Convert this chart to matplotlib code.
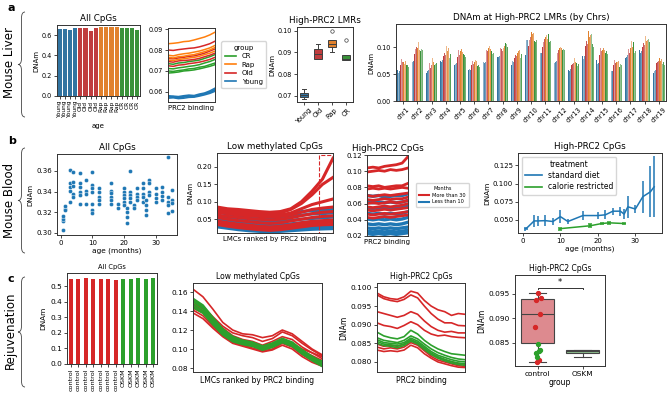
import numpy as np
import matplotlib
matplotlib.use("Agg")
import matplotlib.pyplot as plt
from matplotlib.path import Path
from matplotlib.patches import PathPatch, Rectangle
from matplotlib.lines import Line2D

# ---------------- data ----------------
# a: mouse liver, all CpGs
liver_samples = ['Young'] * 4 + ['Old'] * 4 + ['Rap'] * 4 + ['CR'] * 4
liver_allcpg = [0.665, 0.665, 0.655, 0.670, 0.670, 0.672, 0.645, 0.672,
                0.678, 0.678, 0.680, 0.678, 0.670, 0.672, 0.670, 0.655]

# a: mean DNAm along PRC2 binding rank (4 samples per group)
liver_young = [
    [0.0575, 0.0578, 0.0572, 0.0575, 0.0580, 0.0578, 0.0585, 0.0590, 0.0600, 0.0612],
    [0.0582, 0.0580, 0.0578, 0.0582, 0.0585, 0.0583, 0.0590, 0.0595, 0.0605, 0.0618],
    [0.0570, 0.0572, 0.0568, 0.0570, 0.0574, 0.0575, 0.0580, 0.0586, 0.0593, 0.0603],
    [0.0578, 0.0575, 0.0574, 0.0578, 0.0582, 0.0580, 0.0585, 0.0592, 0.0598, 0.0608],
]
liver_cr = [
    [0.0700, 0.0698, 0.0702, 0.0705, 0.0710, 0.0712, 0.0718, 0.0722, 0.0730, 0.0738],
    [0.0690, 0.0692, 0.0695, 0.0700, 0.0702, 0.0705, 0.0710, 0.0716, 0.0722, 0.0730],
    [0.0712, 0.0710, 0.0715, 0.0718, 0.0722, 0.0725, 0.0730, 0.0738, 0.0745, 0.0755],
    [0.0735, 0.0732, 0.0738, 0.0740, 0.0745, 0.0748, 0.0752, 0.0760, 0.0768, 0.0778],
]
liver_old = [
    [0.0800, 0.0798, 0.0802, 0.0805, 0.0808, 0.0810, 0.0815, 0.0822, 0.0830, 0.0842],
    [0.0745, 0.0742, 0.0748, 0.0750, 0.0752, 0.0755, 0.0760, 0.0768, 0.0775, 0.0785],
    [0.0725, 0.0722, 0.0728, 0.0730, 0.0735, 0.0738, 0.0742, 0.0748, 0.0755, 0.0765],
    [0.0760, 0.0758, 0.0762, 0.0765, 0.0770, 0.0772, 0.0778, 0.0785, 0.0795, 0.0805],
]
liver_rap = [
    [0.0830, 0.0832, 0.0835, 0.0840, 0.0842, 0.0848, 0.0855, 0.0862, 0.0872, 0.0885],
    [0.0775, 0.0772, 0.0778, 0.0782, 0.0785, 0.0790, 0.0795, 0.0802, 0.0810, 0.0822],
    [0.0765, 0.0762, 0.0768, 0.0770, 0.0775, 0.0778, 0.0785, 0.0792, 0.0800, 0.0812],
    [0.0752, 0.0750, 0.0755, 0.0758, 0.0762, 0.0765, 0.0770, 0.0778, 0.0785, 0.0795],
]

# a: High-PRC2 LMRs boxplot stats
box_groups = ['Young', 'Old', 'Rap', 'CR']
box_lo = [0.0688, 0.0868, 0.0900, 0.0865]
box_q1 = [0.0695, 0.0870, 0.0925, 0.0865]
box_med = [0.0705, 0.0895, 0.0940, 0.0868]
box_q3 = [0.0715, 0.0915, 0.0955, 0.0890]
box_hi = [0.0732, 0.0940, 0.0955, 0.0890]
box_fliers = [[], [], [0.1000], [0.0955]]

# a: by chromosome (4 samples per group, one value per chromosome)
chroms = ['chr%d' % i for i in range(1, 20)]
chr_young = [
    [0.057, 0.077, 0.052, 0.075, 0.066, 0.057, 0.068, 0.082, 0.066, 0.085, 0.092, 0.077, 0.058, 0.083, 0.076, 0.057, 0.080, 0.095, 0.052],
    [0.052, 0.073, 0.050, 0.074, 0.069, 0.060, 0.072, 0.080, 0.075, 0.113, 0.090, 0.070, 0.054, 0.078, 0.068, 0.055, 0.085, 0.087, 0.056],
    [0.055, 0.075, 0.055, 0.073, 0.068, 0.058, 0.070, 0.081, 0.070, 0.100, 0.089, 0.072, 0.056, 0.080, 0.070, 0.056, 0.082, 0.089, 0.054],
    [0.058, 0.076, 0.058, 0.076, 0.070, 0.061, 0.073, 0.083, 0.073, 0.114, 0.093, 0.074, 0.059, 0.084, 0.073, 0.059, 0.086, 0.092, 0.057],
]
chr_old = [
    [0.066, 0.088, 0.062, 0.083, 0.082, 0.066, 0.100, 0.088, 0.080, 0.102, 0.101, 0.108, 0.066, 0.103, 0.086, 0.066, 0.085, 0.100, 0.071],
    [0.078, 0.096, 0.070, 0.095, 0.095, 0.075, 0.095, 0.099, 0.091, 0.114, 0.110, 0.090, 0.072, 0.100, 0.098, 0.077, 0.096, 0.110, 0.076],
    [0.070, 0.100, 0.062, 0.090, 0.090, 0.070, 0.092, 0.096, 0.085, 0.125, 0.116, 0.095, 0.068, 0.112, 0.088, 0.070, 0.090, 0.108, 0.072],
    [0.072, 0.094, 0.066, 0.086, 0.086, 0.068, 0.098, 0.092, 0.083, 0.118, 0.113, 0.098, 0.070, 0.106, 0.092, 0.072, 0.087, 0.104, 0.074],
]
chr_rap = [
    [0.072, 0.098, 0.068, 0.095, 0.093, 0.073, 0.098, 0.100, 0.090, 0.128, 0.118, 0.098, 0.075, 0.130, 0.095, 0.072, 0.098, 0.116, 0.080],
    [0.068, 0.110, 0.080, 0.102, 0.098, 0.076, 0.103, 0.098, 0.097, 0.132, 0.122, 0.100, 0.080, 0.135, 0.103, 0.073, 0.112, 0.120, 0.084],
    [0.070, 0.100, 0.072, 0.092, 0.096, 0.070, 0.096, 0.102, 0.092, 0.124, 0.120, 0.098, 0.072, 0.118, 0.098, 0.070, 0.100, 0.112, 0.075],
    [0.074, 0.095, 0.074, 0.098, 0.091, 0.075, 0.100, 0.104, 0.095, 0.126, 0.115, 0.096, 0.077, 0.122, 0.094, 0.074, 0.104, 0.114, 0.078],
]
chr_cr = [
    [0.066, 0.093, 0.066, 0.098, 0.088, 0.065, 0.092, 0.108, 0.082, 0.112, 0.125, 0.095, 0.070, 0.088, 0.090, 0.064, 0.110, 0.104, 0.064],
    [0.065, 0.097, 0.068, 0.080, 0.080, 0.063, 0.088, 0.105, 0.080, 0.112, 0.104, 0.096, 0.065, 0.124, 0.089, 0.068, 0.090, 0.115, 0.068],
    [0.067, 0.095, 0.070, 0.088, 0.085, 0.066, 0.090, 0.100, 0.088, 0.110, 0.110, 0.095, 0.068, 0.105, 0.093, 0.075, 0.095, 0.110, 0.073],
    [0.064, 0.094, 0.065, 0.090, 0.082, 0.064, 0.089, 0.103, 0.085, 0.114, 0.112, 0.094, 0.066, 0.100, 0.088, 0.066, 0.093, 0.108, 0.066],
]

# b: mouse blood, all CpGs vs age
blood_age = [0.7, 0.7, 0.7, 0.7, 1.2, 1.2, 1.2,
             3, 3, 3, 3, 3, 4, 4, 4, 4, 4,
             6, 6, 6, 6, 6, 6, 8, 8, 8, 8,
             10, 10, 10, 10, 10, 10, 10, 12, 12, 12, 12, 12,
             16, 16, 16, 16, 16, 16, 18, 18,
             20, 20, 20, 20, 20, 20, 21, 21, 21, 21,
             22, 22, 22, 22, 22, 23, 23, 24, 24, 24, 24,
             26, 26, 26, 26, 26, 27, 27, 27, 27, 28, 28, 28, 28,
             30, 30, 30, 30, 32, 32, 32, 32, 34, 34, 34, 34, 34, 35, 35, 35, 35]
blood_dnam = [0.303, 0.311, 0.3135, 0.316, 0.3235, 0.3255, 0.322,
              0.361, 0.348, 0.344, 0.341, 0.330, 0.359, 0.349, 0.345, 0.338, 0.335,
              0.358, 0.348, 0.344, 0.340, 0.337, 0.328, 0.351, 0.341, 0.338, 0.328,
              0.359, 0.346, 0.343, 0.340, 0.328, 0.322, 0.3195, 0.343, 0.340, 0.335, 0.332, 0.328,
              0.348, 0.341, 0.339, 0.335, 0.332, 0.328, 0.328, 0.3236,
              0.343, 0.340, 0.337, 0.334, 0.330, 0.327, 0.3236, 0.320, 0.3155, 0.309,
              0.360, 0.340, 0.337, 0.334, 0.330, 0.327, 0.3236, 0.343, 0.338, 0.335, 0.332,
              0.348, 0.343, 0.338, 0.335, 0.330, 0.332, 0.327, 0.322, 0.317, 0.351, 0.348, 0.340, 0.337,
              0.343, 0.338, 0.334, 0.330, 0.344, 0.340, 0.336, 0.332, 0.374, 0.335, 0.330, 0.327, 0.319,
              0.342, 0.332, 0.329, 0.321]

# b: low methylated CpGs, old (>30 months) and young (<10 months) mice
blood_lmc_old = [
    [0.085, 0.080, 0.078, 0.075, 0.072, 0.070, 0.072, 0.080, 0.100, 0.130, 0.165, 0.225],
    [0.080, 0.076, 0.073, 0.070, 0.068, 0.066, 0.068, 0.078, 0.095, 0.120, 0.150, 0.170],
    [0.075, 0.070, 0.067, 0.064, 0.062, 0.060, 0.062, 0.068, 0.080, 0.092, 0.100, 0.108],
    [0.070, 0.066, 0.062, 0.060, 0.058, 0.056, 0.058, 0.062, 0.070, 0.078, 0.082, 0.085],
    [0.062, 0.058, 0.055, 0.052, 0.050, 0.048, 0.050, 0.054, 0.060, 0.066, 0.070, 0.072],
    [0.055, 0.050, 0.046, 0.043, 0.040, 0.038, 0.040, 0.045, 0.050, 0.055, 0.058, 0.060],
    [0.045, 0.040, 0.036, 0.033, 0.030, 0.028, 0.030, 0.034, 0.040, 0.044, 0.046, 0.048],
    [0.040, 0.035, 0.030, 0.027, 0.025, 0.022, 0.025, 0.029, 0.034, 0.038, 0.040, 0.042],
    [0.035, 0.030, 0.026, 0.023, 0.020, 0.018, 0.020, 0.024, 0.028, 0.032, 0.034, 0.035],
]
blood_lmc_young = [
    [0.082, 0.075, 0.068, 0.063, 0.060, 0.058, 0.060, 0.065, 0.072, 0.075, 0.075, 0.078],
    [0.070, 0.065, 0.060, 0.057, 0.055, 0.053, 0.055, 0.058, 0.062, 0.065, 0.066, 0.068],
    [0.060, 0.055, 0.050, 0.046, 0.044, 0.042, 0.044, 0.047, 0.050, 0.052, 0.054, 0.056],
    [0.050, 0.045, 0.040, 0.037, 0.035, 0.033, 0.034, 0.037, 0.040, 0.042, 0.043, 0.045],
    [0.035, 0.030, 0.026, 0.022, 0.020, 0.018, 0.019, 0.021, 0.024, 0.026, 0.027, 0.028],
    [0.028, 0.024, 0.020, 0.017, 0.015, 0.014, 0.015, 0.017, 0.019, 0.021, 0.022, 0.023],
]

# b: high-PRC2 CpGs
blood_hp_old = [
    [0.104, 0.105, 0.104, 0.106, 0.107, 0.108, 0.110, 0.118],
    [0.099, 0.100, 0.101, 0.100, 0.102, 0.101, 0.102, 0.104],
    [0.082, 0.081, 0.082, 0.080, 0.081, 0.082, 0.082, 0.085],
    [0.078, 0.079, 0.078, 0.079, 0.078, 0.079, 0.080, 0.079],
    [0.070, 0.069, 0.070, 0.071, 0.070, 0.071, 0.072, 0.073],
    [0.065, 0.064, 0.065, 0.066, 0.065, 0.066, 0.066, 0.068],
    [0.060, 0.061, 0.060, 0.061, 0.062, 0.061, 0.062, 0.064],
    [0.056, 0.055, 0.056, 0.057, 0.056, 0.057, 0.058, 0.060],
    [0.052, 0.051, 0.052, 0.053, 0.052, 0.053, 0.054, 0.055],
    [0.047, 0.046, 0.047, 0.048, 0.047, 0.048, 0.049, 0.050],
    [0.043, 0.042, 0.043, 0.044, 0.043, 0.044, 0.045, 0.046],
]
blood_hp_young = [
    [0.070, 0.069, 0.070, 0.068, 0.069, 0.070, 0.070, 0.072],
    [0.062, 0.061, 0.062, 0.061, 0.062, 0.061, 0.062, 0.064],
    [0.055, 0.054, 0.055, 0.054, 0.055, 0.054, 0.055, 0.057],
    [0.048, 0.047, 0.048, 0.047, 0.048, 0.047, 0.048, 0.050],
    [0.041, 0.040, 0.041, 0.040, 0.041, 0.040, 0.041, 0.043],
    [0.035, 0.034, 0.035, 0.034, 0.035, 0.034, 0.035, 0.037],
    [0.030, 0.029, 0.030, 0.029, 0.030, 0.029, 0.030, 0.031],
    [0.026, 0.025, 0.026, 0.025, 0.026, 0.025, 0.026, 0.027],
    [0.023, 0.022, 0.023, 0.022, 0.023, 0.022, 0.023, 0.024],
]

# b: high-PRC2 CpGs by age and treatment
sd_age = [0.6, 1, 3, 4, 6, 8, 10, 12, 16, 20, 22, 24, 26, 27, 28, 30, 32, 34, 35]
sd_mean = [0.0377, 0.0386, 0.0486, 0.0486, 0.0490, 0.0478, 0.0545, 0.0478, 0.0560, 0.0560,
           0.0570, 0.0620, 0.0620, 0.0580, 0.0680, 0.0650, 0.0820, 0.0886, 0.0955]
sd_err = [0.003, 0.002, 0.008, 0.007, 0.008, 0.005, 0.009, 0.003, 0.006, 0.005,
          0.006, 0.005, 0.006, 0.007, 0.015, 0.006, 0.022, 0.035, 0.042]
cr_age = [10, 18, 21, 23, 27]
cr_mean = [0.0380, 0.0420, 0.0450, 0.0460, 0.0450]
cr_err = [0.0012, 0.0020, 0.0012, 0.0010, 0.0012]

# c: rejuvenation
rejuv_samples = ['control'] * 7 + ['OSKM'] * 5
rejuv_allcpg = [0.547, 0.545, 0.550, 0.548, 0.546, 0.545, 0.543, 0.546, 0.545, 0.550, 0.548, 0.550]

rejuv_lmc_ctrl = [
    [0.163, 0.155, 0.142, 0.128, 0.120, 0.116, 0.115, 0.112, 0.114, 0.120, 0.116, 0.108, 0.100, 0.094],
    [0.148, 0.142, 0.132, 0.122, 0.114, 0.110, 0.108, 0.104, 0.108, 0.113, 0.110, 0.102, 0.096, 0.090],
    [0.145, 0.140, 0.128, 0.118, 0.110, 0.107, 0.105, 0.101, 0.104, 0.110, 0.106, 0.098, 0.093, 0.088],
    [0.143, 0.138, 0.126, 0.116, 0.108, 0.105, 0.103, 0.100, 0.103, 0.108, 0.105, 0.100, 0.096, 0.092],
    [0.138, 0.132, 0.122, 0.113, 0.106, 0.103, 0.100, 0.097, 0.099, 0.104, 0.100, 0.092, 0.086, 0.082],
    [0.141, 0.135, 0.124, 0.114, 0.107, 0.104, 0.101, 0.098, 0.100, 0.106, 0.102, 0.094, 0.088, 0.084],
    [0.150, 0.145, 0.134, 0.124, 0.117, 0.114, 0.112, 0.108, 0.111, 0.118, 0.114, 0.106, 0.099, 0.093],
]
rejuv_lmc_oskm = [
    [0.153, 0.146, 0.133, 0.121, 0.113, 0.109, 0.107, 0.103, 0.106, 0.111, 0.107, 0.099, 0.092, 0.086],
    [0.150, 0.143, 0.131, 0.119, 0.111, 0.107, 0.105, 0.101, 0.104, 0.109, 0.105, 0.097, 0.090, 0.084],
    [0.147, 0.140, 0.128, 0.117, 0.110, 0.106, 0.104, 0.100, 0.103, 0.108, 0.104, 0.096, 0.089, 0.083],
    [0.144, 0.138, 0.126, 0.115, 0.108, 0.105, 0.103, 0.099, 0.102, 0.107, 0.103, 0.095, 0.088, 0.082],
    [0.151, 0.144, 0.130, 0.119, 0.112, 0.108, 0.106, 0.102, 0.105, 0.110, 0.106, 0.098, 0.091, 0.087],
]

rejuv_hp_ctrl = [
    [0.0985, 0.0975, 0.0970, 0.0968, 0.0975, 0.0990, 0.0985, 0.0965, 0.0950, 0.0940, 0.0935, 0.0925, 0.0930, 0.0928],
    [0.0980, 0.0970, 0.0965, 0.0962, 0.0968, 0.0980, 0.0972, 0.0950, 0.0930, 0.0915, 0.0905, 0.0905, 0.0898, 0.0897],
    [0.0935, 0.0930, 0.0925, 0.0920, 0.0925, 0.0935, 0.0928, 0.0910, 0.0895, 0.0885, 0.0880, 0.0882, 0.0878, 0.0878],
    [0.0905, 0.0898, 0.0895, 0.0890, 0.0898, 0.0908, 0.0900, 0.0885, 0.0875, 0.0870, 0.0872, 0.0868, 0.0866, 0.0865],
    [0.0840, 0.0835, 0.0838, 0.0835, 0.0840, 0.0852, 0.0845, 0.0830, 0.0815, 0.0805, 0.0800, 0.0795, 0.0790, 0.0788],
    [0.0832, 0.0828, 0.0830, 0.0828, 0.0832, 0.0845, 0.0838, 0.0822, 0.0810, 0.0800, 0.0795, 0.0790, 0.0786, 0.0785],
    [0.0848, 0.0842, 0.0845, 0.0842, 0.0848, 0.0858, 0.0850, 0.0835, 0.0820, 0.0812, 0.0806, 0.0800, 0.0796, 0.0794],
]
rejuv_hp_oskm = [
    [0.0880, 0.0870, 0.0865, 0.0862, 0.0868, 0.0885, 0.0875, 0.0858, 0.0845, 0.0835, 0.0828, 0.0822, 0.0820, 0.0818],
    [0.0865, 0.0858, 0.0855, 0.0852, 0.0858, 0.0870, 0.0862, 0.0848, 0.0835, 0.0825, 0.0818, 0.0812, 0.0808, 0.0806],
    [0.0860, 0.0852, 0.0850, 0.0848, 0.0852, 0.0864, 0.0856, 0.0842, 0.0828, 0.0818, 0.0812, 0.0806, 0.0802, 0.0800],
    [0.0855, 0.0848, 0.0846, 0.0843, 0.0848, 0.0860, 0.0852, 0.0838, 0.0824, 0.0814, 0.0807, 0.0801, 0.0797, 0.0795],
    [0.0850, 0.0844, 0.0842, 0.0838, 0.0844, 0.0856, 0.0848, 0.0833, 0.0820, 0.0810, 0.0803, 0.0797, 0.0793, 0.0791],
]

rejuv_groups = ['control', 'OSKM']
rejuv_box_ctrl = [0.0952, 0.0938, 0.0942, 0.0908, 0.0882, 0.0815, 0.0810]
rejuv_box_oskm = [0.0848, 0.0835, 0.0832, 0.0828, 0.0820]

# ---------------- styling ----------------
BLUE, ORANGE, GREEN, RED = '#1f77b4', '#ff7f0e', '#2ca02c', '#d62728'
BLUE_D, ORANGE_D, GREEN_D, RED_D = '#3274a1', '#e1812c', '#3a923a', '#c03d3e'
group_color = {'Young': BLUE_D, 'Old': RED_D, 'Rap': ORANGE_D, 'CR': GREEN_D}

W, H = 667, 399
fig = plt.figure(figsize=(W / 100, H / 100), dpi=100)


def add_ax(x0, y0, x1, y1):
    # box given in pixels from the top-left corner
    return fig.add_axes([x0 / W, 1 - y1 / H, (x1 - x0) / W, (y1 - y0) / H])


def style(ax, fs, title=None, tfs=6.3):
    ax.tick_params(labelsize=fs, length=2, width=0.5, pad=1.5)
    for s in ax.spines.values():
        s.set_linewidth(0.7)
        s.set_color('#333333')
    if title:
        ax.set_title(title, fontsize=tfs, pad=3)


def brace(x, ytop, ybot, w=7):
    # curly brace opening to the right, tip on the left
    yc = (ytop + ybot) / 2
    xm = x + w * 0.5
    pts = [(x + w, ytop), (xm, ytop), (xm, ytop + 6),
           (xm, yc - 6), (xm, yc), (x, yc),
           (xm, yc), (xm, yc + 6),
           (xm, ybot - 6), (xm, ybot), (x + w, ybot)]
    codes = [Path.MOVETO, Path.CURVE3, Path.CURVE3,
             Path.LINETO, Path.CURVE3, Path.CURVE3,
             Path.CURVE3, Path.CURVE3,
             Path.LINETO, Path.CURVE3, Path.CURVE3]
    verts = [(px / W, 1 - py / H) for px, py in pts]
    fig.patches.append(PathPatch(Path(verts, codes), transform=fig.transFigure,
                                 fill=False, lw=0.6, color='#444444'))


# row labels
fig.text(8 / W, 1 - 8 / H, 'a', fontsize=8, fontweight='bold', va='center')
fig.text(8 / W, 1 - 141 / H, 'b', fontsize=8, fontweight='bold', va='center')
fig.text(8 / W, 1 - 279 / H, 'c', fontsize=8, fontweight='bold', va='center')
fig.text(10 / W, 1 - 62 / H, 'Mouse Liver', rotation=90, fontsize=8.5, ha='center', va='center')
fig.text(10 / W, 1 - 200 / H, 'Mouse Blood', rotation=90, fontsize=8.5, ha='center', va='center')
fig.text(10 / W, 1 - 330 / H, 'Rejuvenation', rotation=90, fontsize=8.5, ha='center', va='center')
brace(18, 12, 117)
brace(18, 148, 253)
brace(18, 277, 387)

# ---------------- row a ----------------
ax = add_ax(57, 25, 140, 96)
ax.bar(range(len(liver_allcpg)), liver_allcpg, width=0.8,
       color=[group_color[g] for g in liver_samples])
ax.set_xlim(-0.5, len(liver_allcpg) - 0.5)
ax.set_ylim(0, 0.70)
ax.set_xticks(range(len(liver_samples)))
ax.set_xticklabels(liver_samples, rotation=90)
ax.set_yticks([0, 0.2, 0.4, 0.6])
style(ax, 4.7, 'All CpGs')
ax.tick_params(axis='x', labelsize=4.2)
ax.set_ylabel('DNAm', fontsize=5, labelpad=2)
ax.set_xlabel('age', fontsize=5, labelpad=3)

ax = add_ax(168, 28, 215, 102)
for lines, c in [(liver_young, BLUE), (liver_cr, GREEN), (liver_old, RED), (liver_rap, ORANGE)]:
    for ys in lines:
        ax.plot(range(len(ys)), ys, color=c, lw=1.1)
ax.set_xlim(0, 9)
ax.set_ylim(0.0552, 0.0905)
ax.set_xticks([])
ax.set_yticks([0.06, 0.07, 0.08, 0.09])
style(ax, 4.7)
ax.set_xlabel('PRC2 binding', fontsize=5, labelpad=2)
handles = [Line2D([], [], color=c, lw=1.2) for c in (GREEN, ORANGE, RED, BLUE)]
fig.legend(handles, ['CR', 'Rap', 'Old', 'Young'], title='group', loc='upper left',
           bbox_to_anchor=(218 / W, 1 - 38 / H), fontsize=5, title_fontsize=5,
           handlelength=1.6, borderpad=0.5, labelspacing=0.35, frameon=True)

ax = add_ax(297, 27, 353, 102)
stats = []
for i, g in enumerate(box_groups):
    stats.append(dict(label=g, med=box_med[i], q1=box_q1[i], q3=box_q3[i],
                      whislo=box_lo[i], whishi=box_hi[i], fliers=box_fliers[i]))
bp = ax.bxp(stats, positions=range(len(box_groups)), widths=0.6, patch_artist=True,
            medianprops=dict(color='#3f3f3f', lw=0.7),
            whiskerprops=dict(color='#3f3f3f', lw=0.7),
            capprops=dict(color='#3f3f3f', lw=0.7),
            boxprops=dict(edgecolor='#3f3f3f', lw=0.7),
            flierprops=dict(marker='o', markersize=2.5, markerfacecolor='none',
                            markeredgecolor='#3f3f3f', markeredgewidth=0.5))
for patch, g in zip(bp['boxes'], box_groups):
    patch.set_facecolor(group_color[g])
ax.set_ylim(0.0672, 0.1017)
ax.set_yticks([0.07, 0.08, 0.09, 0.10])
ax.set_xticklabels(box_groups, rotation=45)
style(ax, 4.7, 'High-PRC2 LMRs')
ax.set_ylabel('DNAm', fontsize=5, labelpad=2)

ax = add_ax(396, 24, 666, 101)
sample_alpha = [1.0, 0.55, 0.85, 0.7]
bw = 0.8 / 16
k = 0
for grp, key in [(chr_young, 'Young'), (chr_old, 'Old'), (chr_rap, 'Rap'), (chr_cr, 'CR')]:
    for j, vals in enumerate(grp):
        xs = np.arange(len(chroms)) - 0.4 + bw * (k + 0.5)
        ax.bar(xs, vals, width=bw, color=group_color[key], alpha=sample_alpha[j], lw=0)
        k += 1
ax.set_xlim(-0.5, len(chroms) - 0.5)
ax.set_ylim(0, 0.143)
ax.set_xticks(range(len(chroms)))
ax.set_xticklabels(chroms, rotation=45)
ax.set_yticks([0, 0.05, 0.10])
style(ax, 4.7, 'DNAm at High-PRC2 LMRs (by Chrs)')
ax.set_ylabel('DNAm', fontsize=5, labelpad=2)

# ---------------- row b ----------------
ax = add_ax(57, 154, 177, 235)
ax.scatter(blood_age, blood_dnam, s=9, color=BLUE, edgecolor='white', lw=0.3, zorder=3)
ax.set_xlim(-1.2, 36.7)
ax.set_ylim(0.2978, 0.3765)
ax.set_xticks([0, 10, 20, 30])
ax.set_yticks([0.30, 0.32, 0.34, 0.36])
style(ax, 5, 'All CpGs')
ax.set_ylabel('DNAm', fontsize=5, labelpad=2)
ax.set_xlabel('age (months)', fontsize=5.3, labelpad=1)

ax = add_ax(217, 153, 333, 233)
for ys in blood_lmc_young:
    ax.plot(range(len(ys)), ys, color=BLUE, lw=2.2)
for ys in blood_lmc_old:
    ax.plot(range(len(ys)), ys, color=RED, lw=2.2)
ax.add_patch(Rectangle((9.65, 0.0115), 1.33, 0.222, fill=False, ls='--', lw=0.8,
                       edgecolor=RED, zorder=5))
ax.set_xlim(0, 11)
ax.set_ylim(0.0105, 0.240)
ax.set_xticks([])
ax.set_yticks([0.05, 0.10, 0.15, 0.20])
style(ax, 5, 'Low methylated CpGs')
ax.set_ylabel('DNAm', fontsize=5, labelpad=2)
ax.set_xlabel('LMCs ranked by PRC2 binding', fontsize=5, labelpad=2)

ax = add_ax(367, 155, 408, 236)
for ys in blood_hp_young:
    ax.plot(range(len(ys)), ys, color=BLUE, lw=2.4)
for ys in blood_hp_old:
    ax.plot(range(len(ys)), ys, color=RED, lw=2.0)
ax.set_xlim(0, 7)
ax.set_ylim(0.02, 0.12)
ax.set_xticks([])
ax.set_yticks([0.02, 0.04, 0.06, 0.08, 0.10, 0.12])
style(ax, 5, 'High-PRC2 CpGs')
ax.set_xlabel('PRC2 binding', fontsize=5, labelpad=2)
handles = [Line2D([], [], color=c, lw=1.5) for c in (RED, BLUE)]
fig.legend(handles, ['More than 30', 'Less than 10'], title='Months', loc='upper left',
           bbox_to_anchor=(413 / W, 1 - 181 / H), fontsize=3.6, title_fontsize=3.6,
           handlelength=2.0, borderpad=0.6, labelspacing=0.3, frameon=True)

ax = add_ax(518, 153, 662, 233)
ax.errorbar(sd_age, sd_mean, yerr=sd_err, color=BLUE, lw=1.1, elinewidth=1.1)
ax.errorbar(cr_age, cr_mean, yerr=cr_err, color=GREEN, lw=1.1, elinewidth=1.1,
            capsize=1.5, capthick=1.1)
ax.set_xlim(-1.3, 37.1)
ax.set_ylim(0.032, 0.142)
ax.set_xticks([0, 10, 20, 30])
ax.set_yticks([0.050, 0.075, 0.100, 0.125])
style(ax, 5, 'High-PRC2 CpGs')
ax.set_ylabel('DNAm', fontsize=5.3, labelpad=2)
ax.set_xlabel('age (months)', fontsize=5.3, labelpad=1)
handles = [Line2D([], [], color=c, lw=1.2) for c in (BLUE, GREEN)]
ax.legend(handles, ['standard diet', 'calorie restricted'], title='treatment',
          loc='upper left', fontsize=5.5, title_fontsize=5.5,
          handlelength=2.2, borderpad=0.4, labelspacing=0.3)

# ---------------- row c ----------------
rejuv_color = {'control': RED, 'OSKM': GREEN}
ax = add_ax(67, 273, 157, 364)
ax.bar(range(len(rejuv_allcpg)), rejuv_allcpg, width=0.55,
       color=[rejuv_color[g] for g in rejuv_samples])
ax.set_xlim(-0.5, len(rejuv_allcpg) - 0.5)
ax.set_ylim(0, 0.585)
ax.set_xticks(range(len(rejuv_samples)))
ax.set_xticklabels(rejuv_samples, rotation=90)
ax.set_yticks([0, 0.1, 0.2, 0.3, 0.4, 0.5])
style(ax, 5.3, 'All CpGs', tfs=4.8)
ax.tick_params(axis='x', labelsize=4.6)
ax.set_ylabel('DNAm', fontsize=5.3, labelpad=3)

ax = add_ax(193, 283, 322, 372)
for ys in rejuv_lmc_ctrl:
    ax.plot(range(len(ys)), ys, color=RED, lw=1.2)
for ys in rejuv_lmc_oskm:
    ax.plot(range(len(ys)), ys, color=GREEN, lw=1.6)
ax.set_xlim(0, 13)
ax.set_ylim(0.0758, 0.1695)
ax.set_xticks([])
ax.set_yticks([0.08, 0.10, 0.12, 0.14, 0.16])
style(ax, 5.3, 'Low methylated CpGs', tfs=5.5)
ax.set_xlabel('LMCs ranked by PRC2 binding', fontsize=5.5, labelpad=3)

ax = add_ax(377, 283, 465, 372)
for ys in rejuv_hp_ctrl:
    ax.plot(range(len(ys)), ys, color=RED, lw=1.2)
for ys in rejuv_hp_oskm:
    ax.plot(range(len(ys)), ys, color=GREEN, lw=1.2)
ax.set_xlim(0, 13)
ax.set_ylim(0.0773, 0.1012)
ax.set_xticks([])
ax.set_yticks([0.080, 0.085, 0.090, 0.095, 0.100])
style(ax, 5.3, 'High-PRC2 CpGs', tfs=5.5)
ax.set_ylabel('DNAm', fontsize=5.5, labelpad=2)
ax.set_xlabel('PRC2 binding', fontsize=5.5, labelpad=3)

ax = add_ax(515, 275, 605, 366)
bp = ax.boxplot([rejuv_box_ctrl, rejuv_box_oskm], positions=[0, 1], widths=0.73,
                patch_artist=True, whis=1.5, showfliers=False,
                medianprops=dict(color='#444444', lw=0.8),
                whiskerprops=dict(color='#444444', lw=0.8),
                capprops=dict(color='#444444', lw=0.8),
                boxprops=dict(edgecolor='#444444', lw=0.8))
bp['boxes'][0].set_facecolor('#dd8a8f')
bp['boxes'][1].set_facecolor('#8fc08f')
ax.scatter([0.0, -0.03, 0.08, 0.06, -0.05, 0.04, -0.02], rejuv_box_ctrl, s=8, color=RED, zorder=4)
ax.scatter([0.02, 0.06, 0.04, -0.03, -0.02], rejuv_box_oskm, s=8, color=GREEN, zorder=4)
ax.plot([0, 0, 1, 1], [0.0960, 0.0963, 0.0963, 0.0960], color='#333333', lw=0.7)
ax.text(0.5, 0.0964, '*', ha='center', va='bottom', fontsize=6)
ax.set_xlim(-0.5, 1.5)
ax.set_ylim(0.0802, 0.0989)
ax.set_xticks([0, 1])
ax.set_xticklabels(rejuv_groups)
ax.set_yticks([0.085, 0.090, 0.095])
style(ax, 5.3, 'High-PRC2 CpGs', tfs=5.5)
ax.set_ylabel('DNAm', fontsize=5.5, labelpad=2)
ax.set_xlabel('group', fontsize=5.5, labelpad=1)

fig.savefig('out.png', dpi=100)
